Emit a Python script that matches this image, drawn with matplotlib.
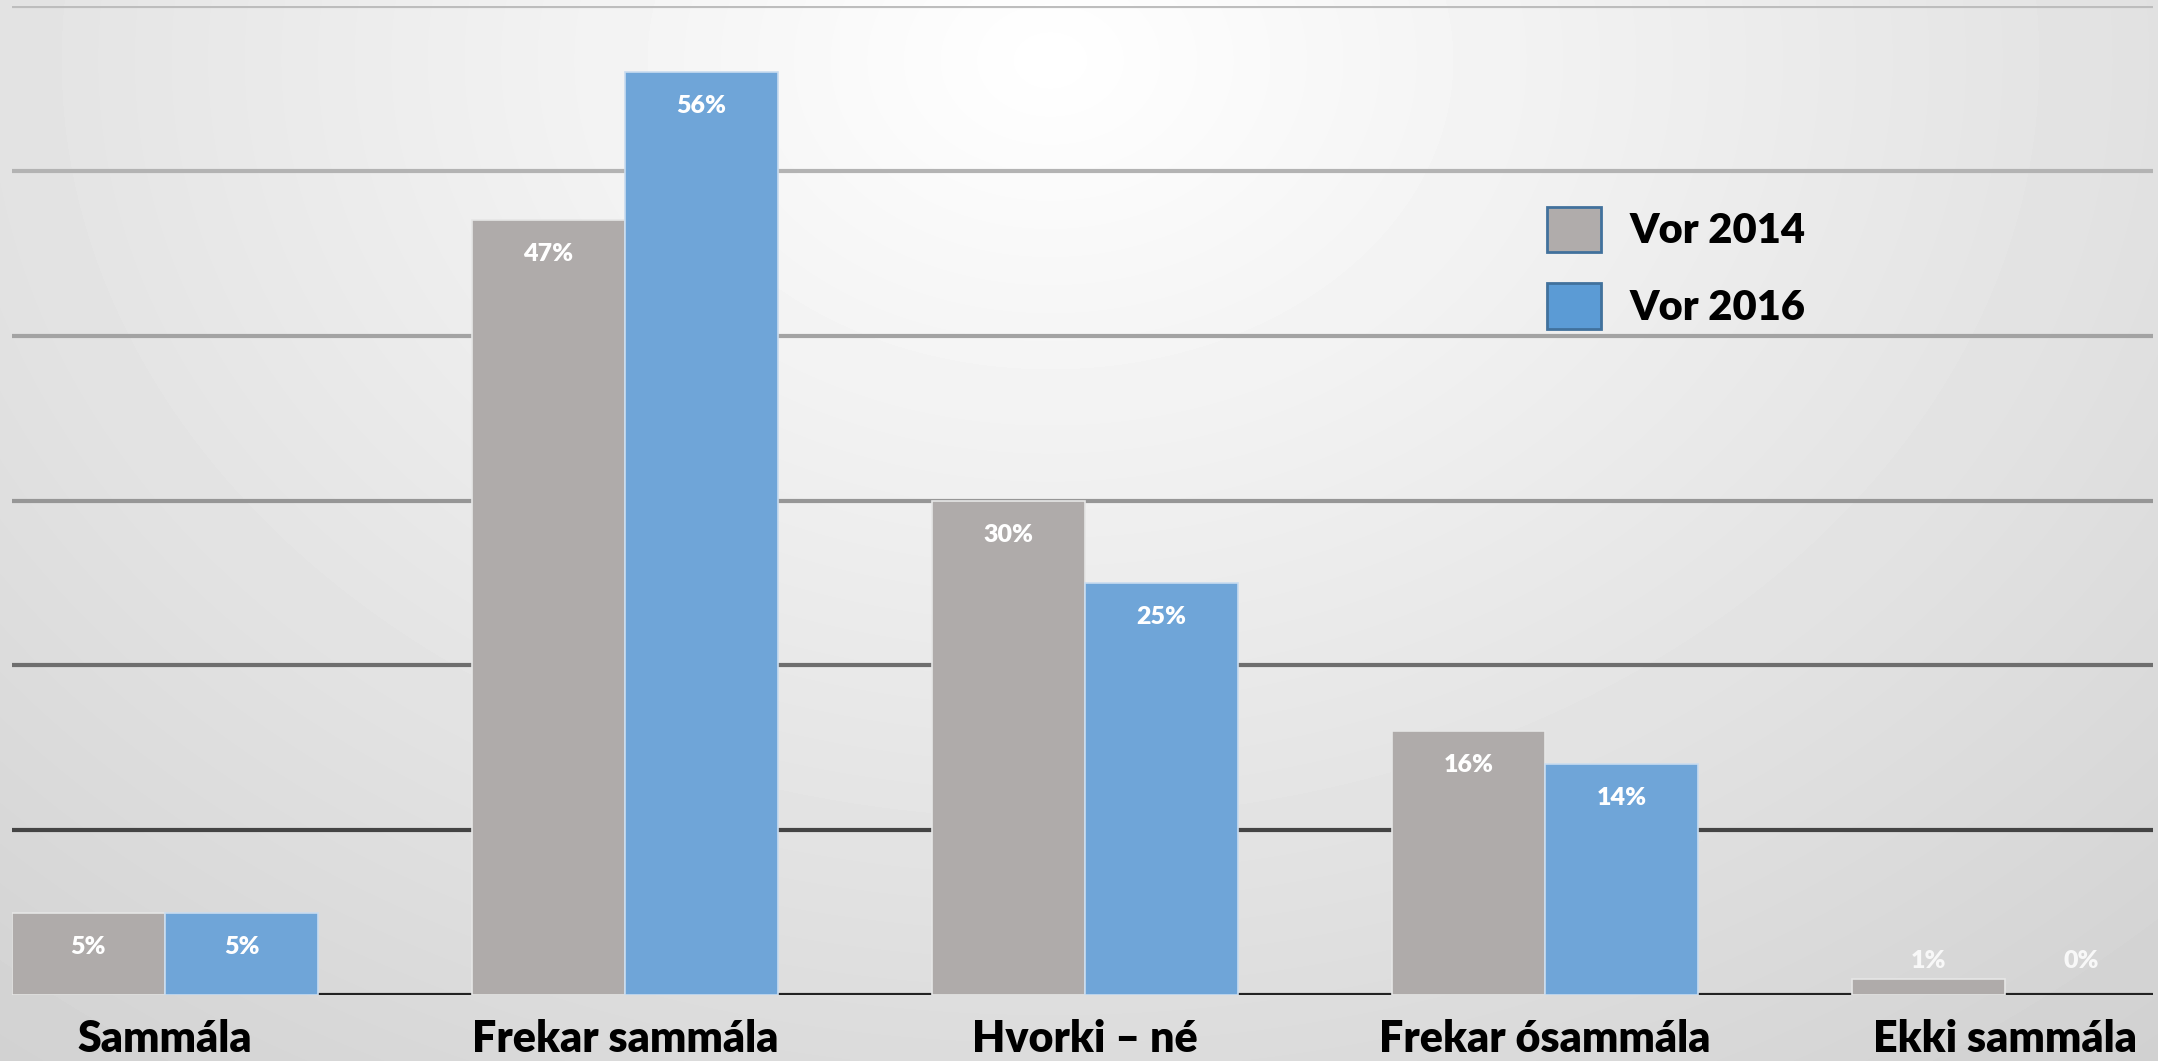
import numpy as np
import matplotlib.pyplot as plt
from matplotlib.patches import Patch

categories = ["Sammála", "Frekar sammála", "Hvorki – né", "Frekar ósammála", "Ekki sammála"]
vor_2014 = [5, 47, 30, 16, 1]
vor_2016 = [5, 56, 25, 14, 0]
series_names = ["Vor 2014", "Vor 2016"]
y_ticks = [0, 10, 20, 30, 40, 50, 60]
grid_colors = ["#222222", "#444444", "#6e6e6e", "#969696", "#a3a3a3", "#b3b3b3", "#bdbdbd"]

gray = "#afabaa"
blue = "#6fa5d8"

plt.rcParams['font.family'] = ['Lato', 'DejaVu Sans']

W, H = 2158, 1061
fig = plt.figure(figsize=(W / 100, H / 100), dpi=100)

# background: light spot near top centre, darker towards the edges
bg = fig.add_axes([0, 0, 1, 1])
yy, xx = np.mgrid[0:H, 0:W]
d = np.sqrt(((xx - 1050) / 1500.0) ** 2 + ((yy - 60) / 1150.0) ** 2)
shade = 1.0 - 0.16 * np.clip(d, 0, 1.2)
bg.imshow(shade, cmap="gray", vmin=0, vmax=1, aspect="auto", extent=[0, 1, 0, 1])
bg.axis("off")

left, right = 12 / W, 2153 / W
bottom, top = 1 - 995 / H, 1 - 6 / H
ax = fig.add_axes([left, bottom, right - left, top - bottom])
ax.patch.set_alpha(0)

x = np.arange(len(categories))
w = 0.333
ax.set_xlim((12 - 165) / 460, (2153 - 165) / 460)
ax.set_ylim(0, 60)

b1 = ax.bar(x - w / 2, vor_2014, w, color=gray, edgecolor="#e6e6e6", linewidth=1.2, zorder=3)
b2 = ax.bar(x + w / 2, vor_2016, w, color=blue, edgecolor="#c9dcef", linewidth=1.2, zorder=3)
for b, v in zip(list(b1) + list(b2), vor_2014 + vor_2016):
    if v == 0:
        b.set_linewidth(0)

ax.set_yticks(y_ticks)
ax.yaxis.grid(True, linewidth=3)
for line, c in zip(ax.yaxis.get_gridlines(), grid_colors):
    line.set_color(c)
ax.set_axisbelow(True)
ax.tick_params(left=False, labelleft=False, bottom=False)
for s in ax.spines.values():
    s.set_visible(False)

ax.set_xticks(x)
ax.set_xticklabels(categories, fontsize=31, fontweight="heavy", color="black")
ax.tick_params(axis="x", pad=14)

for bars, vals in [(b1, vor_2014), (b2, vor_2016)]:
    for b, v in zip(bars, vals):
        cx = b.get_x() + b.get_width() / 2
        if v >= 5:
            ax.annotate(f"{v}%", (cx, v), xytext=(0, -34), textcoords="offset pixels",
                        ha="center", va="center", fontsize=18, fontweight="heavy",
                        color="white", zorder=4)
        else:
            ax.annotate(f"{v}%", (cx, 0), xytext=(0, 34), textcoords="offset pixels",
                        ha="center", va="center", fontsize=18, fontweight="heavy",
                        color="#f8f8f8", zorder=4)

handles = [Patch(facecolor="#b0acab", edgecolor="#41719c", linewidth=2),
           Patch(facecolor="#5b9bd5", edgecolor="#41719c", linewidth=2)]
ax.legend(handles, series_names, loc="upper left", bbox_to_anchor=(1497 / 2141, 0.835),
          frameon=False, prop={"weight": "heavy", "size": 30},
          handlelength=1.3, handleheight=1.3, handletextpad=0.7, labelspacing=0.75)

fig.savefig("out.png", dpi=100)
